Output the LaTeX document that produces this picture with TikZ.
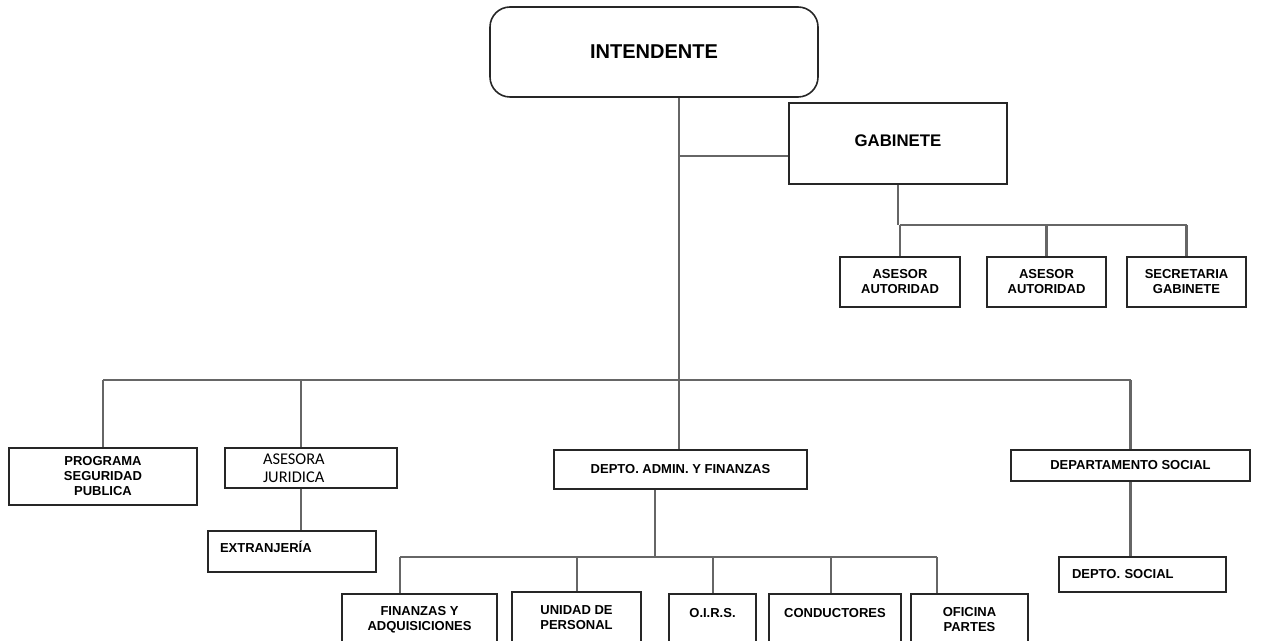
\documentclass[tikz,border=0pt]{standalone}
\usepackage{fontspec}
\setmainfont{Liberation Sans}
\newfontfamily\carlito{Carlito}
\usepackage{tikz}

\begin{document}
\begin{tikzpicture}[x=0.5pt, y=-0.5pt,
        box/.style={draw=black!85, line width=0.8pt, inner sep=0pt, align=center, font=\fontsize{6.5}{7.5}\selectfont\bfseries},
        link/.style={draw=black!60, line width=1.1pt}]
            \useasboundingbox (0,0) rectangle (1261,641);

            % Nodes
            \node[box, rounded corners=10pt, minimum width=164pt, minimum height=45pt, font=\fontsize{10}{12}\selectfont\bfseries] (intendente) at (654,52) {INTENDENTE};
            \node[box, minimum width=109pt, minimum height=40.5pt, text depth=3pt, font=\fontsize{8.4}{10}\selectfont\bfseries] (gabinete) at (898,143.5) {GABINETE};

            \node[box, minimum width=60pt, minimum height=25pt] (ase1) at (900,282) {ASESOR\\AUTORIDAD};
            \node[box, minimum width=59.5pt, minimum height=25pt] (ase2) at (1046.5,282) {ASESOR\\AUTORIDAD};
            \node[box, minimum width=59.5pt, minimum height=25pt] (ase3) at (1186.5,282) {SECRETARIA\\GABINETE};

            \node[box, minimum width=94pt, minimum height=28.5pt] (programa) at (103,476.5) {PROGRAMA\\SEGURIDAD\\PUBLICA};
            \node[box, align=left, text width=48pt, inner xsep=19pt, minimum height=20pt, font=\carlito\fontsize{8.2}{9}\selectfont] (juridica) at (311,468) {ASESORA\\JURIDICA};
            \node[box, align=left, text width=72pt, inner xsep=6pt, minimum height=20.5pt, text depth=5pt] (extranjeria) at (292,551.5) {EXTRANJERÍA};
            \node[box, minimum width=126.5pt, minimum height=19.5pt] (admin) at (680.5,469.5) {DEPTO. ADMIN. Y FINANZAS};
            \node[box, minimum width=119.5pt, minimum height=15.5pt] (social) at (1130.5,465.5) {DEPARTAMENTO SOCIAL};
            \node[box, align=left, text width=70.5pt, inner xsep=6.5pt, minimum height=17.5pt] (deptosocial) at (1142.5,574.5) {DEPTO. SOCIAL};

            \node[box, minimum width=77.5pt, minimum height=26pt] (fin) at (419.5,620) {FINANZAS Y\\ADQUISICIONES};
            \node[box, minimum width=64.5pt, minimum height=26pt] (unidad) at (576.5,618) {UNIDAD DE\\PERSONAL};
            \node[box, minimum width=43.5pt, minimum height=26pt] (oirs) at (712.5,620) {O.I.R.S.\\~};
            \node[box, minimum width=66pt, minimum height=26pt] (cond) at (835,620) {CONDUCTORES\\~};
            \node[box, minimum width=58.5pt, minimum height=26pt] (oficina) at (969.5,620) {OFICINA\\PARTES};

            % Bus points
            \coordinate (gbus) at (679,156);
            \coordinate (abus) at (900,225);
            \coordinate (mbus) at (679,380);
            \coordinate (jdrop) at (301,380);
            \coordinate (bbus) at (655,557);
            \coordinate (dfin) at (400,557);
            \coordinate (dunidad) at (577,557);
            \coordinate (doirs) at (713,557);
            \coordinate (dcond) at (831,557);
            \coordinate (doficina) at (937,557);

            % Lines
            \draw[link] (mbus |- intendente.south) -- (mbus |- admin.north);
            \draw[link] (gbus) -- (gabinete.west |- gbus);
            \draw[link] (gabinete.south) -- (gabinete.south |- abus);
            \draw[link] (ase1.north |- abus) -- (ase3.north |- abus);
            \foreach \n in {ase1, ase2, ase3}
                \draw[link] (\n.north |- abus) -- (\n.north);

            \draw[link] (programa.north |- mbus) -- (social.north |- mbus);
            \draw[link] (programa.north |- mbus) -- (programa.north);
            \draw[link] (jdrop) -- (jdrop |- juridica.north);
            \draw[link] (social.north |- mbus) -- (social.north);
            \draw[link] (jdrop |- juridica.south) -- (jdrop |- extranjeria.north);
            \draw[link] (social.south) -- (social.south |- deptosocial.north);

            \draw[link] (bbus |- admin.south) -- (bbus);
            \draw[link] (dfin) -- (doficina);
            \foreach \n in {fin, unidad, oirs, cond, oficina}
                \draw[link] (d\n) -- (d\n |- \n.north);
        \end{tikzpicture}
\end{document}
